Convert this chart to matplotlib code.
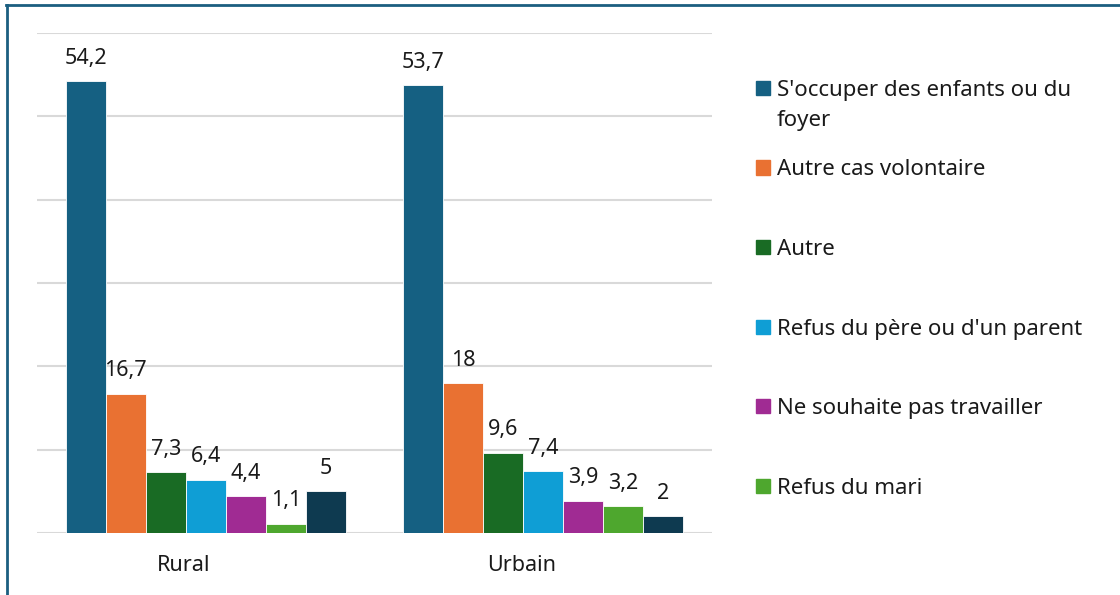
import matplotlib.pyplot as plt
from matplotlib.patches import Rectangle
from matplotlib.transforms import ScaledTranslation
import numpy as np

plt.rcParams['font.family'] = ['Noto Sans', 'DejaVu Sans']

# data
categories = ['Rural', 'Urbain']
series_names = ["S'occuper des enfants ou du\nfoyer", 'Autre cas volontaire', 'Autre',
                "Refus du père ou d'un parent", 'Ne souhaite pas travailler', 'Refus du mari', 'Autre (2)']
values = [
    [54.2, 53.7],
    [16.7, 18],
    [7.3, 9.6],
    [6.4, 7.4],
    [4.4, 3.9],
    [1.1, 3.2],
    [5, 2],
]
labels = [
    ['54,2', '53,7'],
    ['16,7', '18'],
    ['7,3', '9,6'],
    ['6,4', '7,4'],
    ['4,4', '3,9'],
    ['1,1', '3,2'],
    ['5', '2'],
]
colors = ['#156082', '#E97132', '#196B24', '#0F9ED5', '#A02B93', '#4EA72E', '#0E3A50']

fig = plt.figure(figsize=(11.2, 5.95), dpi=100)
ax = fig.add_axes([37/1120, 1 - 533/595, 675/1120, 500/595])

x = np.arange(len(categories))
w = 0.1185
n = len(values)
for i in range(n):
    pos = x + (i - (n - 1) / 2) * w
    bars = ax.bar(pos, values[i], width=w, color=colors[i], edgecolor='white', linewidth=0.6, zorder=3)
    for b, txt in zip(bars, labels[i]):
        ax.annotate(txt, (b.get_x() + b.get_width() / 2, b.get_height()),
                    xytext=(0, 9), textcoords='offset points',
                    ha='center', va='bottom', fontsize=15.5, color='#1a1a1a')

ax.set_xlim(-0.5, 1.5)
ax.set_ylim(0, 60)
ax.set_yticks(range(0, 61, 10))
ax.set_yticklabels([])
ax.tick_params(axis='y', length=0)
ax.set_xticks(x)
ax.set_xticklabels(categories, fontsize=15.5, color='#1a1a1a')
ax.tick_params(axis='x', length=0, pad=16)
# category labels sit a bit left of the group centre in the original
for t in ax.get_xticklabels():
    t.set_transform(t.get_transform() + ScaledTranslation(-0.22, 0, fig.dpi_scale_trans))
ax.grid(axis='y', color='#D9D9D9', linewidth=1.5, zorder=0)
for s in ax.spines.values():
    s.set_visible(False)

# legend drawn by hand (first six series)
top = 1 - 76/595
step = 79.5/595
for i in range(6):
    y = top - i * step
    fig.patches.append(Rectangle((756/1120, y - 19/595), 14/1120, 14/595,
                                 transform=fig.transFigure, color=colors[i]))
    fig.text(777/1120, y - 4/595, series_names[i], fontsize=16, va='top', ha='left',
             color='#1a1a1a', linespacing=1.55)

# frame (top and left edges visible)
fig.add_artist(plt.Line2D([6/1120, 1], [1 - 5/595, 1 - 5/595], transform=fig.transFigure,
                          color='#1B5E80', linewidth=2))
fig.add_artist(plt.Line2D([7/1120, 7/1120], [0, 1 - 5/595], transform=fig.transFigure,
                          color='#1B5E80', linewidth=2))

fig.savefig('out.png', dpi=100)
